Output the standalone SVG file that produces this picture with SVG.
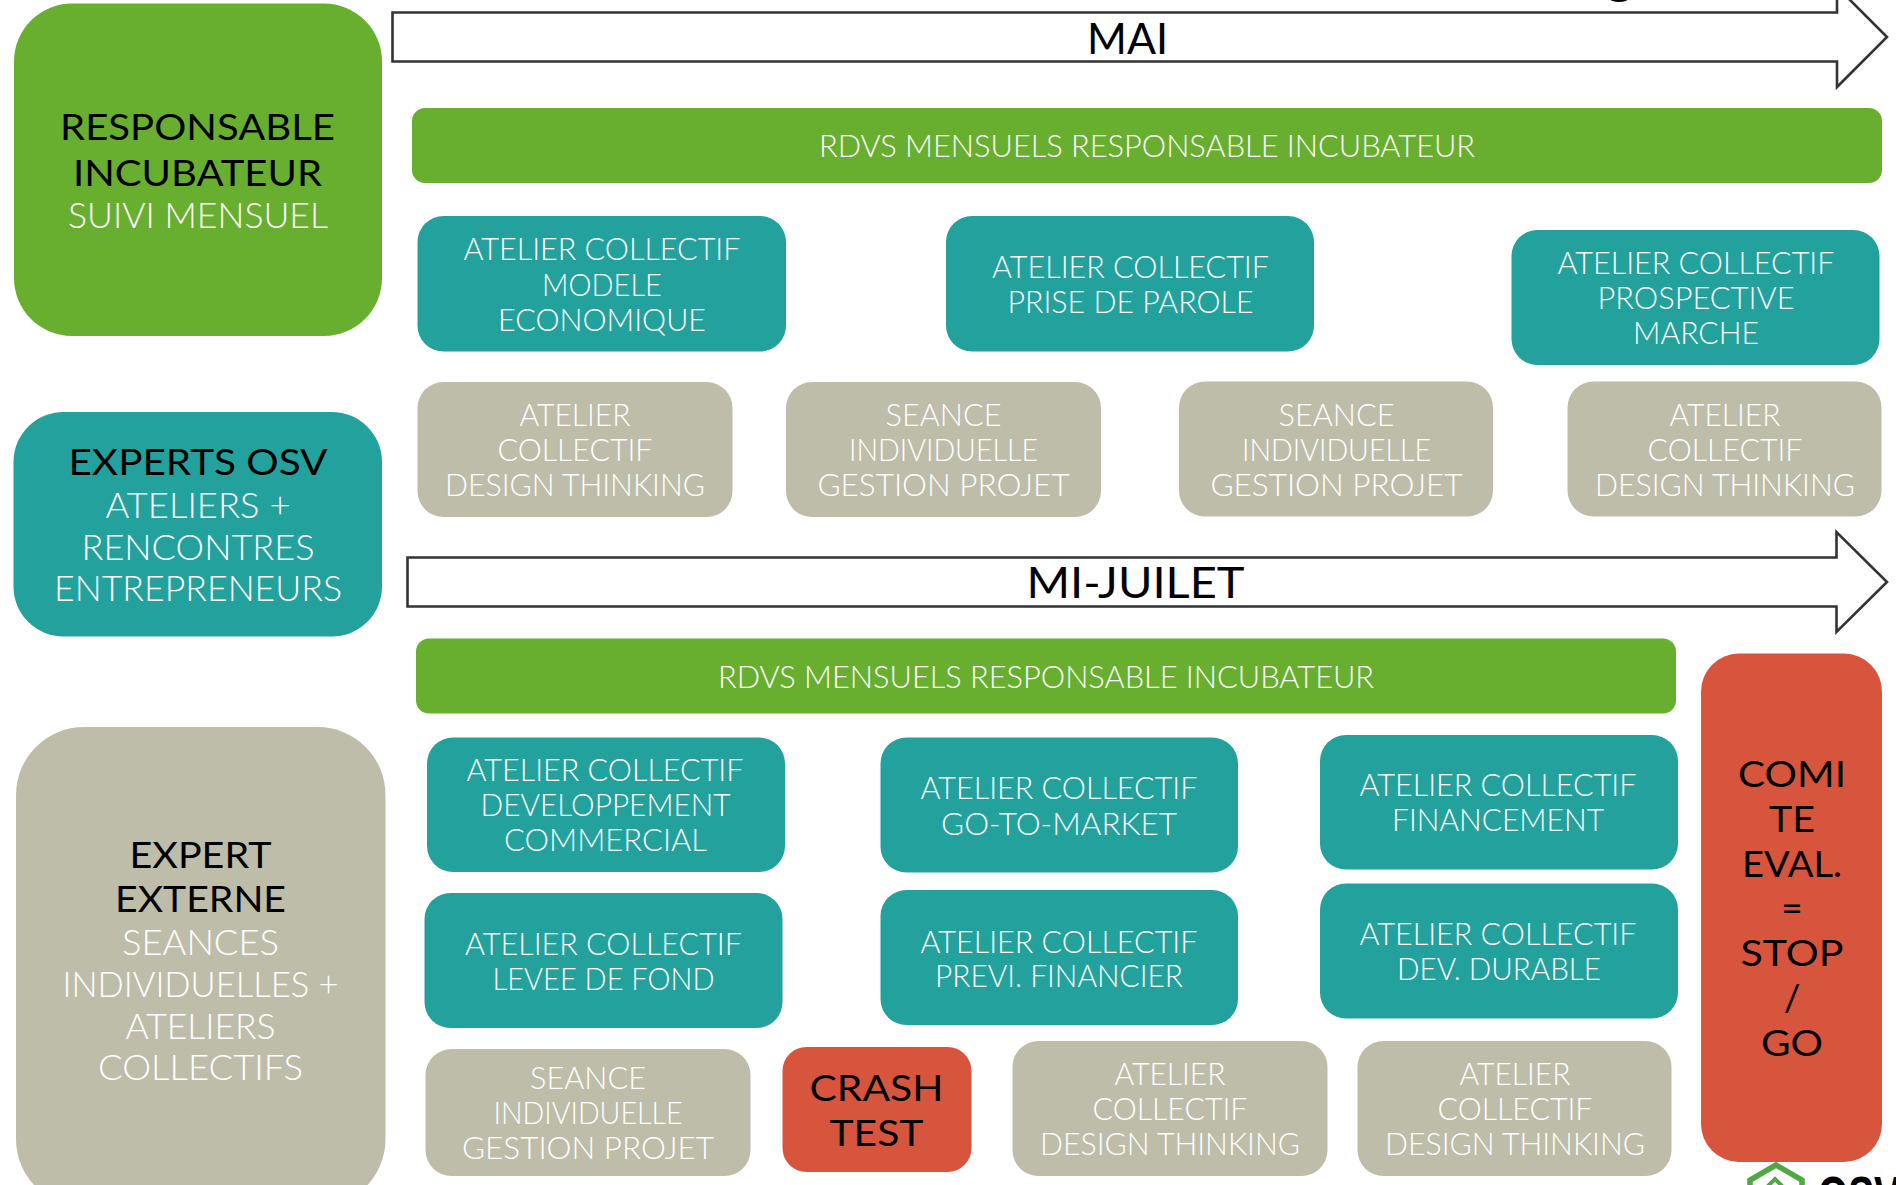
<svg xmlns="http://www.w3.org/2000/svg" width="1896" height="1185" viewBox="0 0 1896 1185">
<style>
text{font-family:"Lato","Open Sans","Liberation Sans",sans-serif;text-anchor:middle}
.w{fill:#fff;font-weight:300;font-size:31px}
.wl{fill:#fff;font-weight:300;font-size:35px}
.k{fill:#000;font-weight:400;font-size:37px}
.gr{fill:#68AF30}.te{fill:#23A19D}.ge{fill:#BEBDA9}.re{fill:#D7553C}
.ar{fill:#fff;stroke:#333;stroke-width:2.6}
</style>
<rect width="1896" height="1185" fill="#fff"/>
<g id="connectors">
<path class="ar" d="M392.500 12.500H1837V-13L1887 37L1837 87V61.500H392.500Z"/>
<text class="k" x="1127.500" y="54" style="font-size:42px" textLength="81" lengthAdjust="spacingAndGlyphs">MAI</text>
<ellipse cx="1619" cy="-1" rx="9" ry="3" fill="#000"/>
<path class="ar" d="M407.500 557.500H1836.500V532L1887 582L1836.500 632V606.500H407.500Z"/>
<text class="k" x="1135.500" y="598" style="font-size:42px" textLength="218" lengthAdjust="spacingAndGlyphs">MI-JUILET</text>
</g>
<g id="responsable-incubateur"><rect class="gr" x="14" y="3.500" width="368" height="332.500" rx="58" ry="58"/>
<text class="k" x="197.500" y="140" textLength="275" lengthAdjust="spacingAndGlyphs">RESPONSABLE</text>
<text class="k" x="197.500" y="186" textLength="249" lengthAdjust="spacingAndGlyphs">INCUBATEUR</text>
<text class="wl" x="198" y="228" textLength="260" lengthAdjust="spacingAndGlyphs">SUIVI MENSUEL</text></g>
<g id="experts-osv"><rect class="te" x="13.500" y="412" width="368.500" height="224.500" rx="50" ry="50"/>
<text class="k" x="198" y="475" textLength="259" lengthAdjust="spacingAndGlyphs">EXPERTS OSV</text>
<text class="wl" x="198" y="518" textLength="185" lengthAdjust="spacingAndGlyphs">ATELIERS +</text>
<text class="wl" x="198" y="559.500" textLength="233" lengthAdjust="spacingAndGlyphs">RENCONTRES</text>
<text class="wl" x="198" y="601" textLength="288" lengthAdjust="spacingAndGlyphs">ENTREPRENEURS</text></g>
<g id="expert-externe"><rect class="ge" x="16" y="727" width="369.500" height="480" rx="68" ry="68"/>
<text class="k" x="200.500" y="867.500" textLength="142" lengthAdjust="spacingAndGlyphs">EXPERT</text>
<text class="k" x="200.500" y="912" textLength="171" lengthAdjust="spacingAndGlyphs">EXTERNE</text>
<text class="wl" x="200.500" y="955" textLength="157" lengthAdjust="spacingAndGlyphs">SEANCES</text>
<text class="wl" x="200.500" y="997" textLength="276" lengthAdjust="spacingAndGlyphs">INDIVIDUELLES +</text>
<text class="wl" x="200.500" y="1038.500" textLength="150" lengthAdjust="spacingAndGlyphs">ATELIERS</text>
<text class="wl" x="200.500" y="1080" textLength="205" lengthAdjust="spacingAndGlyphs">COLLECTIFS</text></g>
<g id="rdv-1"><rect class="gr" x="412" y="108" width="1470" height="75" rx="13" ry="13"/>
<text class="w" x="1147" y="156.500" textLength="656" lengthAdjust="spacingAndGlyphs">RDVS MENSUELS RESPONSABLE INCUBATEUR</text></g>
<g id="atelier-modele"><rect class="te" x="417.500" y="216" width="368.500" height="135.500" rx="26" ry="26"/>
<text class="w" x="602" y="260" textLength="277" lengthAdjust="spacingAndGlyphs">ATELIER COLLECTIF</text>
<text class="w" x="602" y="295.500" textLength="120" lengthAdjust="spacingAndGlyphs">MODELE</text>
<text class="w" x="602" y="330.500" textLength="208" lengthAdjust="spacingAndGlyphs">ECONOMIQUE</text></g>
<g id="atelier-parole"><rect class="te" x="946" y="216" width="368" height="135.500" rx="26" ry="26"/>
<text class="w" x="1130.500" y="277.500" textLength="277" lengthAdjust="spacingAndGlyphs">ATELIER COLLECTIF</text>
<text class="w" x="1130.500" y="312.500" textLength="246" lengthAdjust="spacingAndGlyphs">PRISE DE PAROLE</text></g>
<g id="atelier-prospective"><rect class="te" x="1511.500" y="230" width="368" height="135" rx="26" ry="26"/>
<text class="w" x="1696" y="273.500" textLength="277" lengthAdjust="spacingAndGlyphs">ATELIER COLLECTIF</text>
<text class="w" x="1696" y="308.500" textLength="197" lengthAdjust="spacingAndGlyphs">PROSPECTIVE</text>
<text class="w" x="1696" y="343.500" textLength="126" lengthAdjust="spacingAndGlyphs">MARCHE</text></g>
<g id="design-1"><rect class="ge" x="417.500" y="382" width="315" height="135" rx="26" ry="26"/>
<text class="w" x="575" y="426" textLength="111" lengthAdjust="spacingAndGlyphs">ATELIER</text>
<text class="w" x="575" y="461" textLength="155" lengthAdjust="spacingAndGlyphs">COLLECTIF</text>
<text class="w" x="575" y="496" textLength="260" lengthAdjust="spacingAndGlyphs">DESIGN THINKING</text></g>
<g id="gestion-1"><rect class="ge" x="786" y="382" width="315" height="135" rx="26" ry="26"/>
<text class="w" x="943.500" y="426" textLength="116" lengthAdjust="spacingAndGlyphs">SEANCE</text>
<text class="w" x="943.500" y="461" textLength="189" lengthAdjust="spacingAndGlyphs">INDIVIDUELLE</text>
<text class="w" x="943.500" y="496" textLength="252" lengthAdjust="spacingAndGlyphs">GESTION PROJET</text></g>
<g id="gestion-2"><rect class="ge" x="1179" y="381.500" width="314" height="135" rx="26" ry="26"/>
<text class="w" x="1336.500" y="425.500" textLength="116" lengthAdjust="spacingAndGlyphs">SEANCE</text>
<text class="w" x="1336.500" y="460.500" textLength="189" lengthAdjust="spacingAndGlyphs">INDIVIDUELLE</text>
<text class="w" x="1336.500" y="495.500" textLength="252" lengthAdjust="spacingAndGlyphs">GESTION PROJET</text></g>
<g id="design-2"><rect class="ge" x="1567.500" y="381.500" width="314" height="135" rx="26" ry="26"/>
<text class="w" x="1725" y="425.500" textLength="111" lengthAdjust="spacingAndGlyphs">ATELIER</text>
<text class="w" x="1725" y="460.500" textLength="155" lengthAdjust="spacingAndGlyphs">COLLECTIF</text>
<text class="w" x="1725" y="495.500" textLength="260" lengthAdjust="spacingAndGlyphs">DESIGN THINKING</text></g>
<g id="rdv-2"><rect class="gr" x="416" y="638.500" width="1260" height="75" rx="13" ry="13"/>
<text class="w" x="1046" y="688" textLength="656" lengthAdjust="spacingAndGlyphs">RDVS MENSUELS RESPONSABLE INCUBATEUR</text></g>
<g id="atelier-commercial"><rect class="te" x="427" y="737.500" width="358" height="134.500" rx="26" ry="26"/>
<text class="w" x="605" y="780.500" textLength="277" lengthAdjust="spacingAndGlyphs">ATELIER COLLECTIF</text>
<text class="w" x="605.500" y="815.500" textLength="250" lengthAdjust="spacingAndGlyphs">DEVELOPPEMENT</text>
<text class="w" x="605.500" y="850.500" textLength="203" lengthAdjust="spacingAndGlyphs">COMMERCIAL</text></g>
<g id="atelier-levee"><rect class="te" x="424.500" y="893" width="358" height="135" rx="26" ry="26"/>
<text class="w" x="603.500" y="954.500" textLength="277" lengthAdjust="spacingAndGlyphs">ATELIER COLLECTIF</text>
<text class="w" x="603.500" y="990" textLength="222" lengthAdjust="spacingAndGlyphs">LEVEE DE FOND</text></g>
<g id="atelier-gotomarket"><rect class="te" x="880.500" y="737.500" width="357.500" height="135" rx="26" ry="26"/>
<text class="w" x="1059" y="799" textLength="277" lengthAdjust="spacingAndGlyphs">ATELIER COLLECTIF</text>
<text class="w" x="1059" y="835" textLength="236" lengthAdjust="spacingAndGlyphs">GO-TO-MARKET</text></g>
<g id="atelier-previ"><rect class="te" x="880.500" y="890" width="357.500" height="135" rx="26" ry="26"/>
<text class="w" x="1059" y="952.500" textLength="277" lengthAdjust="spacingAndGlyphs">ATELIER COLLECTIF</text>
<text class="w" x="1059" y="987" textLength="248" lengthAdjust="spacingAndGlyphs">PREVI. FINANCIER</text></g>
<g id="atelier-financement"><rect class="te" x="1320" y="735" width="358" height="134.500" rx="26" ry="26"/>
<text class="w" x="1498" y="795.500" textLength="277" lengthAdjust="spacingAndGlyphs">ATELIER COLLECTIF</text>
<text class="w" x="1498" y="830.500" textLength="212" lengthAdjust="spacingAndGlyphs">FINANCEMENT</text></g>
<g id="atelier-durable"><rect class="te" x="1320" y="883.500" width="358" height="135" rx="26" ry="26"/>
<text class="w" x="1498" y="945" textLength="277" lengthAdjust="spacingAndGlyphs">ATELIER COLLECTIF</text>
<text class="w" x="1499" y="979.500" textLength="204" lengthAdjust="spacingAndGlyphs">DEV. DURABLE</text></g>
<g id="gestion-3"><rect class="ge" x="425.500" y="1049" width="325" height="127" rx="26" ry="26"/>
<text class="w" x="588" y="1089" textLength="116" lengthAdjust="spacingAndGlyphs">SEANCE</text>
<text class="w" x="588" y="1124" textLength="189" lengthAdjust="spacingAndGlyphs">INDIVIDUELLE</text>
<text class="w" x="588" y="1159" textLength="252" lengthAdjust="spacingAndGlyphs">GESTION PROJET</text></g>
<g id="crash-test"><rect class="re" x="782.500" y="1047" width="189" height="125" rx="24" ry="24"/>
<text class="k" x="876.500" y="1101" textLength="134" lengthAdjust="spacingAndGlyphs">CRASH</text>
<text class="k" x="876.500" y="1146" textLength="94" lengthAdjust="spacingAndGlyphs">TEST</text></g>
<g id="design-3"><rect class="ge" x="1012.500" y="1041" width="315" height="135" rx="26" ry="26"/>
<text class="w" x="1170" y="1084.500" textLength="111" lengthAdjust="spacingAndGlyphs">ATELIER</text>
<text class="w" x="1170" y="1119.500" textLength="155" lengthAdjust="spacingAndGlyphs">COLLECTIF</text>
<text class="w" x="1170" y="1154.500" textLength="260" lengthAdjust="spacingAndGlyphs">DESIGN THINKING</text></g>
<g id="design-4"><rect class="ge" x="1357.500" y="1041" width="314" height="135" rx="26" ry="26"/>
<text class="w" x="1515" y="1084.500" textLength="111" lengthAdjust="spacingAndGlyphs">ATELIER</text>
<text class="w" x="1515" y="1119.500" textLength="155" lengthAdjust="spacingAndGlyphs">COLLECTIF</text>
<text class="w" x="1515" y="1154.500" textLength="260" lengthAdjust="spacingAndGlyphs">DESIGN THINKING</text></g>
<g id="comite"><rect class="re" x="1701" y="653.500" width="181" height="508.500" rx="38" ry="38"/>
<text class="k" x="1792" y="787" textLength="108" lengthAdjust="spacingAndGlyphs">COMI</text>
<text class="k" x="1792" y="832" textLength="46" lengthAdjust="spacingAndGlyphs">TE</text>
<text class="k" x="1792" y="877" textLength="100" lengthAdjust="spacingAndGlyphs">EVAL.</text>
<text class="k" x="1792" y="921">=</text>
<text class="k" x="1792" y="966" textLength="103" lengthAdjust="spacingAndGlyphs">STOP</text>
<text class="k" x="1792" y="1011">/</text>
<text class="k" x="1792" y="1056" textLength="62" lengthAdjust="spacingAndGlyphs">GO</text></g>
<g id="logo">
<path d="M1750 1197V1180L1776 1165L1802 1180V1197" fill="none" stroke="#4FA842" stroke-width="5.500"/>
<path d="M1764 1190L1775 1179L1786 1190" fill="none" stroke="#4FA842" stroke-width="4"/>
<text x="1859" y="1215" style="font-family:'Liberation Sans',sans-serif;font-weight:700;font-size:56px" fill="#000" textLength="82" lengthAdjust="spacingAndGlyphs">OSV</text>
</g>
</svg>
